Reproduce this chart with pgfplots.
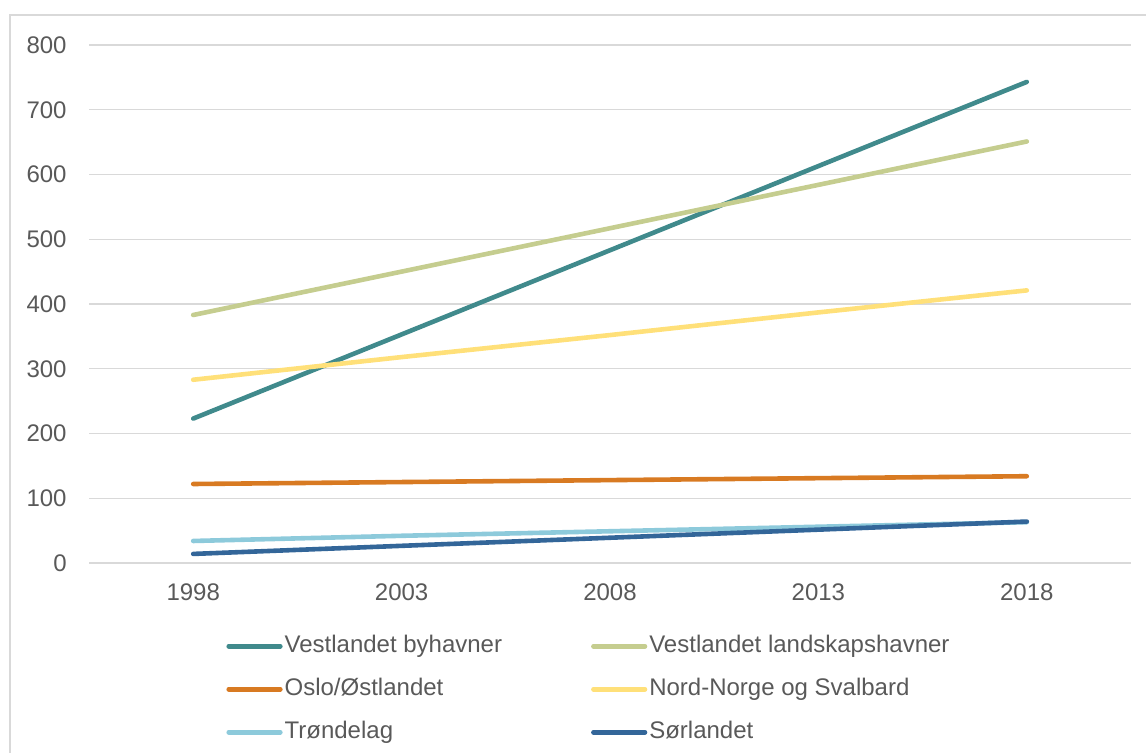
\documentclass[border=0pt]{standalone}
\usepackage{fontspec}
\setmainfont{Liberation Sans}
\usepackage{pgfplots}
\pgfplotsset{compat=1.18}
\definecolor{txt}{HTML}{595959}
\definecolor{gridc}{HTML}{D9D9D9}
\definecolor{c1}{HTML}{408A8C}
\definecolor{c2}{HTML}{C5CD8F}
\definecolor{c3}{HTML}{D87A22}
\definecolor{c4}{HTML}{FFE079}
\definecolor{c5}{HTML}{8DCADB}
\definecolor{c6}{HTML}{336699}
\begin{document}
\begin{tikzpicture}
\useasboundingbox (0,0) rectangle (573pt,376.5pt);
\draw[gridc, line width=0.9pt] (5pt,-10pt) -- (5pt,369pt) -- (600pt,369pt);
\begin{axis}[
  at={(44.5pt,95pt)}, anchor=south west,
  scale only axis, width=521pt, height=259pt,
  xmin=-0.5, xmax=4.5, ymin=0, ymax=800,
  xtick={0,1,2,3,4}, xticklabels={1998,2003,2008,2013,2018},
  ytick={0,100,...,800},
  ymajorgrids, grid style={gridc, line width=0.7pt},
  axis line style={draw=none}, major tick length=0pt,
  tick label style={font=\fontsize{12}{14}\selectfont, text=txt},
  /pgf/number format/assume math mode=true,
  yticklabel style={inner sep=0pt, xshift=-11pt},
  xticklabel style={inner sep=0pt, yshift=-10pt},
  clip=false,
  legend columns=2,
  legend cell align=left,
  legend image code/.code={\draw[#1, line cap=round] (1.1pt,0pt) -- (26.9pt,0pt);},
  legend style={at={(0.1315,-0.1367)}, anchor=north west, draw=none, fill=none,
    inner sep=0pt, font=\fontsize{12}{14}\selectfont, text=txt, row sep=9.5pt,
    nodes={inner xsep=1pt, inner ysep=0pt, text height=9pt, text depth=3pt},
    /tikz/every even column/.append style={column sep=43.5pt}},
  every axis plot/.append style={line width=2.3pt, line cap=round, line join=round},
]
\addplot[c1] coordinates {(0,223) (1,353) (2,483) (3,613) (4,743)};
\addlegendentry{Vestlandet byhavner}
\addplot[c2] coordinates {(0,383) (1,450) (2,517) (3,584) (4,651)};
\addlegendentry{Vestlandet landskapshavner}
\addplot[c3] coordinates {(0,122) (1,125) (2,128) (3,131) (4,134)};
\addlegendentry{Oslo/Østlandet}
\addplot[c4] coordinates {(0,283) (1,318) (2,352) (3,387) (4,421)};
\addlegendentry{Nord-Norge og Svalbard}
\addplot[c5] coordinates {(0,34) (1,42) (2,49) (3,56) (4,63)};
\addlegendentry{Trøndelag}
\addplot[c6] coordinates {(0,14) (1,26.5) (2,39) (3,51.5) (4,64)};
\addlegendentry{Sørlandet}
\end{axis}
\end{tikzpicture}
\end{document}
